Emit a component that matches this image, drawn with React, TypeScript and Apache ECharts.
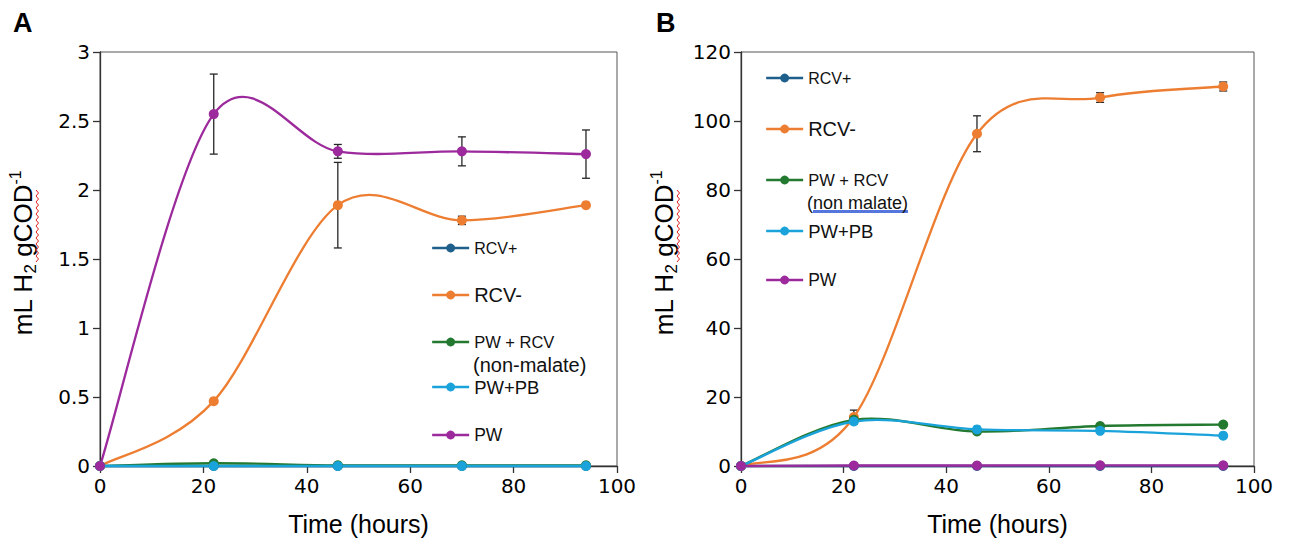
import React, { useEffect, useRef } from "react";
import * as echarts from "echarts";

// ---- data ----
const TIMES = [0, 22, 46, 70, 94];
const NAMES = ["RCV+", "RCV-", "PW + RCV", "PW+PB", "PW"];
const COLORS = ["#1F5F8C", "#ED7D31", "#23792F", "#1AA3DA", "#9C2A9C"];

// Panel A
const A_RCVP = [0, 0, 0, 0, 0];
const A_RCVM = [0, 0.47, 1.89, 1.78, 1.89];
const A_PWRCV = [0, 0.02, 0.005, 0.005, 0.005];
const A_PWPB = [0, 0, 0, 0, 0];
const A_PW = [0, 2.55, 2.28, 2.28, 2.26];
const A_ERR_RCVM = [0, 0, 0.31, 0.03, 0.01];
const A_ERR_PW = [0, 0.29, 0.05, 0.105, 0.175];

// Panel B
const B_RCVP = [0, 0, 0, 0, 0];
const B_RCVM = [0, 14.2, 96.3, 106.8, 110.0];
const B_PWRCV = [0, 13.4, 10.0, 11.6, 12.0];
const B_PWPB = [0, 12.9, 10.6, 10.2, 8.8];
const B_PW = [0, 0.15, 0.15, 0.2, 0.2];
const B_ERR_RCVM = [0, 2.0, 5.2, 1.4, 1.3];

const X_TICKS = { min: 0, max: 100, interval: 20 };
const YA_TICKS = { min: 0, max: 3, interval: 0.5 };
const YB_TICKS = { min: 0, max: 120, interval: 20 };

const FONT = "'Liberation Sans', Arial, sans-serif";
const TICK_FONT = "'DejaVu Sans', 'Liberation Sans', sans-serif";
const LINE_W = 2.3;

// smoothed (Excel-like Catmull-Rom) curve drawn through the axis scales
function curveSeries(color: string, vals: number[], gi: number) {
  return {
    type: "custom",
    coordinateSystem: "cartesian2d",
    xAxisIndex: gi,
    yAxisIndex: gi,
    z: 3,
    silent: true,
    encode: { x: 0, y: 1 },
    data: TIMES.map((t, i) => [t, vals[i]]),
    renderItem: (params: any, api: any) => {
      const i = params.dataIndex;
      const n = TIMES.length;
      if (i >= n - 1) return { type: "group", children: [] };
      const pts = TIMES.map((t, j) => api.coord([t, vals[j]]));
      const p0 = pts[Math.max(i - 1, 0)];
      const p1 = pts[i];
      const p2 = pts[i + 1];
      const p3 = pts[Math.min(i + 2, n - 1)];
      const k = 1 / 6;
      return {
        type: "bezierCurve",
        shape: {
          x1: p1[0],
          y1: p1[1],
          x2: p2[0],
          y2: p2[1],
          cpx1: p1[0] + (p2[0] - p0[0]) * k,
          cpy1: p1[1] + (p2[1] - p0[1]) * k,
          cpx2: p2[0] - (p3[0] - p1[0]) * k,
          cpy2: p2[1] - (p3[1] - p1[1]) * k,
        },
        style: { stroke: color, lineWidth: LINE_W, fill: null, lineCap: "round" },
      };
    },
  };
}

function markerSeries(name: string, color: string, vals: number[], gi: number) {
  return {
    type: "line",
    name,
    xAxisIndex: gi,
    yAxisIndex: gi,
    data: TIMES.map((t, i) => [t, vals[i]]),
    symbol: "circle",
    symbolSize: 10,
    showSymbol: true,
    lineStyle: { color, width: LINE_W, opacity: 0 },
    itemStyle: { color },
    z: 3,
  };
}

function errSeries(vals: number[], errs: number[], gi: number) {
  return {
    type: "custom",
    coordinateSystem: "cartesian2d",
    xAxisIndex: gi,
    yAxisIndex: gi,
    z: 2,
    silent: true,
    encode: { x: 0, y: 1 },
    data: TIMES.map((t, i) => [t, vals[i], errs[i]]),
    renderItem: (params: any, api: any) => {
      const x = api.value(0);
      const y = api.value(1);
      const e = api.value(2);
      if (!e) return { type: "group", children: [] };
      const top = api.coord([x, y + e]);
      const bot = api.coord([x, y - e]);
      const hw = 4;
      const st = { stroke: "#262626", lineWidth: 1.3 };
      return {
        type: "group",
        children: [
          { type: "line", shape: { x1: top[0], y1: top[1], x2: bot[0], y2: bot[1] }, style: st },
          { type: "line", shape: { x1: top[0] - hw, y1: top[1], x2: top[0] + hw, y2: top[1] }, style: st },
          { type: "line", shape: { x1: bot[0] - hw, y1: bot[1], x2: bot[0] + hw, y2: bot[1] }, style: st },
        ],
      };
    },
  };
}

function legendItem(idx: number, left: number, centerY: number, fontSize: number) {
  return {
    data: [NAMES[idx]],
    left,
    top: centerY - 11,
    orient: "vertical",
    padding: 0,
    itemWidth: 37,
    itemHeight: 11,
    selectedMode: false,
    lineStyle: { color: COLORS[idx], width: LINE_W, opacity: 1 },
    textStyle: { fontSize, fontFamily: FONT, color: "#111", lineHeight: 22 },
  };
}

function xAxis(gi: number) {
  return {
    type: "value",
    gridIndex: gi,
    ...X_TICKS,
    name: "Time (hours)",
    nameLocation: "middle",
    nameGap: 45,
    nameTextStyle: { fontSize: 25, fontFamily: FONT, color: "#000" },
    axisLine: { show: true, onZero: false, lineStyle: { color: "#333", width: 1.3 } },
    axisTick: { show: true, inside: false, length: 7, lineStyle: { color: "#333", width: 1.3 } },
    axisLabel: { fontSize: 20, fontFamily: TICK_FONT, color: "#000", margin: 10 },
    splitLine: { show: false },
  };
}

function yAxis(gi: number, ticks: any) {
  return {
    type: "value",
    gridIndex: gi,
    ...ticks,
    name: "{a|mL H}{sub|2}{a| gCOD}{sup|-1}",
    nameLocation: "middle",
    nameRotate: 90,
    nameGap: 61,
    nameTextStyle: {
      fontFamily: FONT,
      color: "#000",
      padding: [0, 0, 0, 12],
      rich: {
        a: { fontSize: 26, lineHeight: 32, fontFamily: FONT, color: "#000" },
        sub: { fontSize: 17, lineHeight: 15, verticalAlign: "bottom", fontFamily: FONT, color: "#000" },
        sup: { fontSize: 16, lineHeight: 16, verticalAlign: "top", fontFamily: FONT, color: "#000" },
      },
    },
    axisLine: { show: true, onZero: false, lineStyle: { color: "#333", width: 1.3 } },
    axisTick: { show: true, inside: false, length: 7, lineStyle: { color: "#333", width: 1.3 } },
    axisLabel: { fontSize: 20, fontFamily: TICK_FONT, color: "#000", margin: 10 },
    splitLine: { show: false },
  };
}

function squiggle(x: number, y0: number, y1: number) {
  const pts: number[][] = [];
  let i = 0;
  for (let y = y0; y <= y1; y += 3) {
    pts.push([x + (i % 2 ? 2.5 : 0), y]);
    i++;
  }
  return { type: "polyline", shape: { points: pts }, style: { stroke: "#E02020", lineWidth: 1, fill: null }, z: 10 };
}

function panelSeries(vals: number[][], gi: number) {
  const out: any[] = [];
  vals.forEach((v, idx) => {
    out.push(curveSeries(COLORS[idx], v, gi));
    out.push(markerSeries(NAMES[idx], COLORS[idx], v, gi));
  });
  return out;
}

export default function App() {
  const ref = useRef<HTMLDivElement>(null);
  useEffect(() => {
    if (!ref.current) return;
    const chart = echarts.init(ref.current, undefined, { renderer: "svg" });
    const option: any = {
      animation: false,
      backgroundColor: "#fff",
      textStyle: { fontFamily: FONT },
      grid: [
        { left: 100, right: 673, top: 52, bottom: 76, show: true, borderColor: "#555", borderWidth: 1, containLabel: false },
        { left: 741, right: 36, top: 52, bottom: 76, show: true, borderColor: "#555", borderWidth: 1, containLabel: false },
      ],
      xAxis: [xAxis(0), xAxis(1)],
      yAxis: [yAxis(0, YA_TICKS), yAxis(1, YB_TICKS)],
      legend: [
        legendItem(0, 431, 248, 16),
        legendItem(1, 431, 295, 20),
        legendItem(2, 431, 342, 16.5),
        legendItem(3, 431, 387, 18.5),
        legendItem(4, 431, 435, 17.5),
        legendItem(0, 765, 78, 16),
        legendItem(1, 765, 129, 20),
        legendItem(2, 765, 180, 16.5),
        legendItem(3, 765, 231, 18.5),
        legendItem(4, 765, 280, 17.5),
      ],
      series: [
        errSeries(A_RCVM, A_ERR_RCVM, 0),
        errSeries(A_PW, A_ERR_PW, 0),
        ...panelSeries([A_RCVP, A_RCVM, A_PWRCV, A_PWPB, A_PW], 0),
        errSeries(B_RCVM, B_ERR_RCVM, 1),
        ...panelSeries([B_RCVP, B_RCVM, B_PWRCV, B_PWPB, B_PW], 1),
      ],
      graphic: [
        { type: "text", left: 13, top: 9, style: { text: "A", fontSize: 27, fontWeight: "bold", fontFamily: FONT, fill: "#000" } },
        { type: "text", left: 656, top: 9, style: { text: "B", fontSize: 27, fontWeight: "bold", fontFamily: FONT, fill: "#000" } },
        { type: "text", x: 473, y: 365, style: { text: "(non-malate)", fontSize: 20, fontFamily: FONT, fill: "#111", verticalAlign: "middle" } },
        { type: "rect", shape: { x: 813, y: 210, width: 95, height: 3 }, style: { fill: "#5577DD" } },
        { type: "text", x: 807, y: 203, style: { text: "(non malate)", fontSize: 18, fontFamily: FONT, fill: "#111", verticalAlign: "middle" } },
        squiggle(36, 190, 262),
        squiggle(677, 190, 262),
      ],
    };
    chart.setOption(option);
    return () => chart.dispose();
  }, []);
  return (
    <div
      ref={ref}
      style={{ position: "fixed", left: 0, top: 0, width: 1290, height: 542, background: "#fff" }}
    />
  );
}
